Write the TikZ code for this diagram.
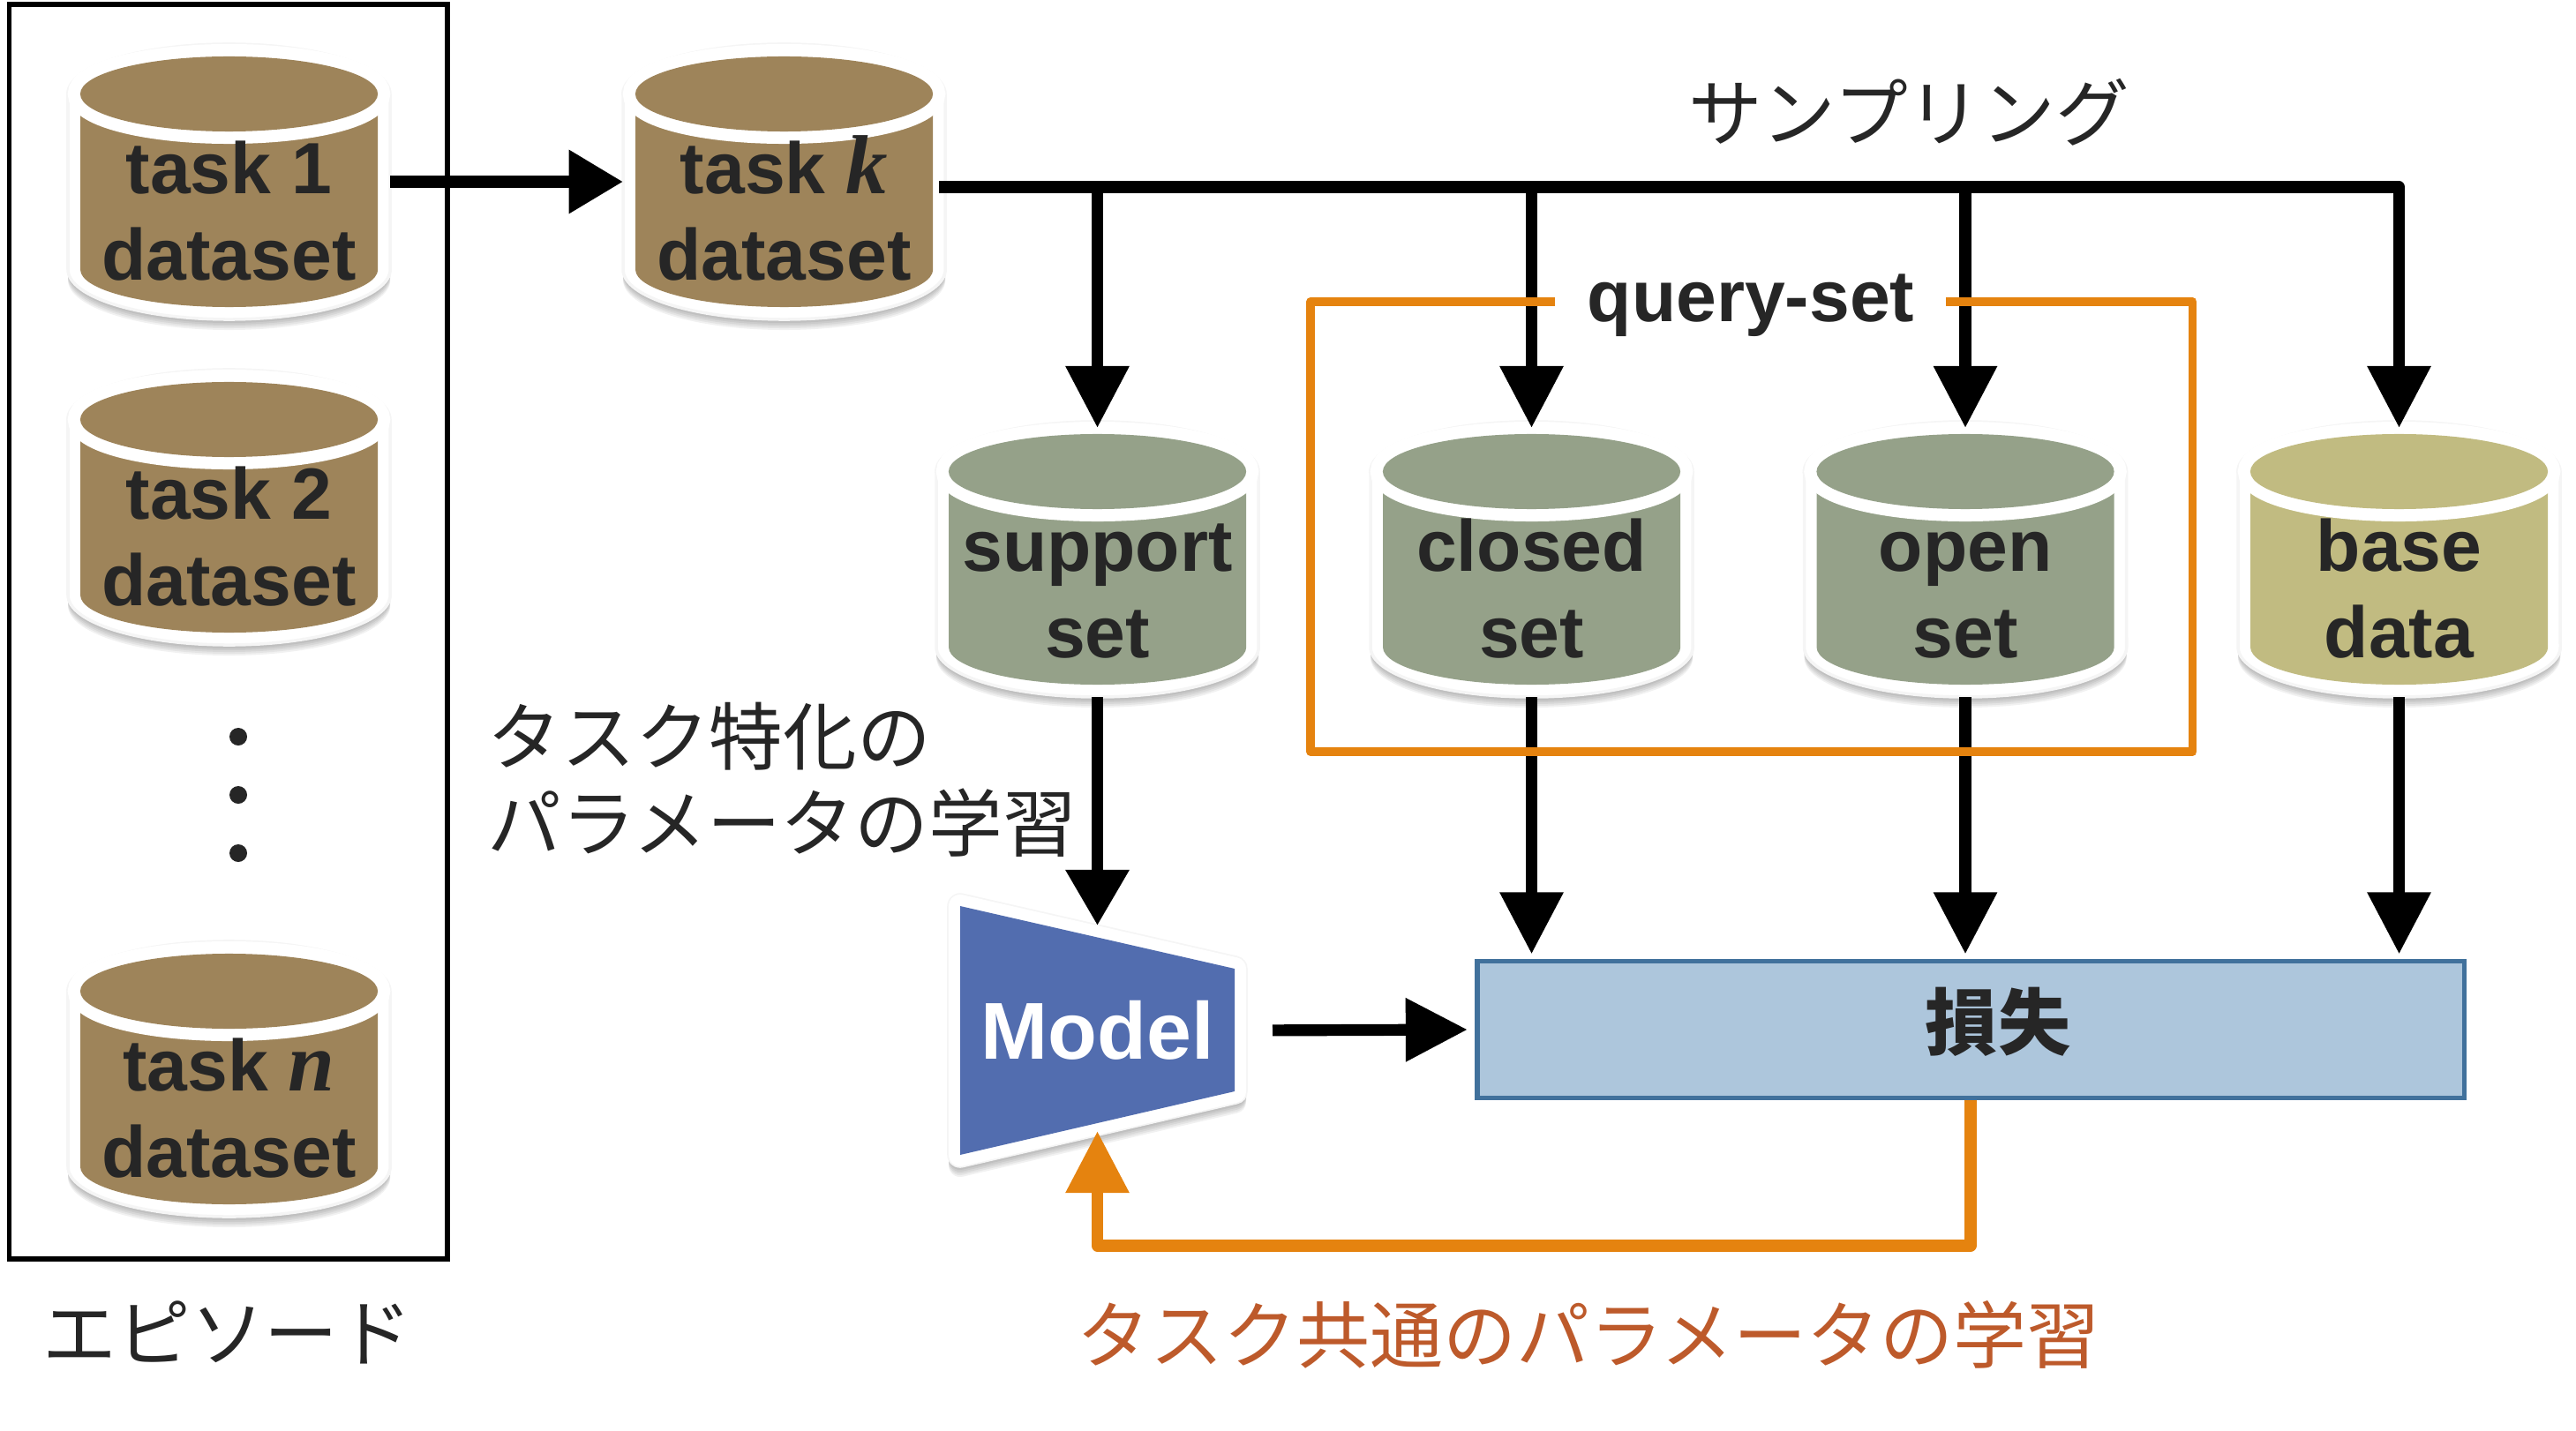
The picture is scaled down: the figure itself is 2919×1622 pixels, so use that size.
\documentclass[tikz,border=0pt]{standalone}
\usepackage{xcolor}
\usepackage{fontspec}
\setmainfont{Liberation Sans}
\newfontfamily\jpfont{Noto Sans CJK JP}
\newfontfamily\varfont{Liberation Serif}
\usetikzlibrary{arrows.meta, positioning}

\definecolor{inkgray}{HTML}{262626}
\definecolor{taskbrown}{HTML}{9E845A}
\definecolor{setsage}{HTML}{95A189}
\definecolor{baseyellow}{HTML}{C1BB81}
\definecolor{modelblue}{HTML}{526DAF}
\definecolor{lossfill}{HTML}{ADC6DC}
\definecolor{lossline}{HTML}{41719C}
\definecolor{loopamber}{HTML}{E5830F}
\definecolor{looptext}{HTML}{BD5A2B}

\tikzset{
  dbbox/.style={minimum width=3.65cm, minimum height=3.12cm, inner sep=0pt, outer sep=0pt, align=center, text=inkgray, font=\fontsize{23.4}{28}\selectfont\bfseries},
  flowarrow/.style={line width=3.75pt, line join=round, -{Triangle[length=19.9pt,width=19.6pt]}},
  jptext/.style={text=inkgray, inner sep=0pt, align=left, font=\fontsize{23.8}{28}\selectfont\jpfont},
  dotmark/.style={circle, fill=inkgray, minimum size=0.2cm, inner sep=0pt},
  queryframe/.style={draw=loopamber, line width=2.8pt, line join=round},
  rimhalo/.style={draw=black!4, line width=1pt},
}

% outline of a cylinder: centre x, centre y, radius x, radius y (in cm)
\newcommand{\dboutline}[4]{(#1-#3*100,#2-99.5) -- (#1-#3*100,#2+99.5) arc[start angle=180,end angle=360,x radius=#3cm,y radius=#4cm] -- (#1+#3*100,#2-99.5) arc[start angle=0,end angle=180,x radius=#3cm,y radius=#4cm] -- cycle}
\newcommand{\dbnode}[5]{
  \foreach \s in {2,4,...,12} {\fill[black,opacity=0.055] \dboutline{#2}{#3+\s}{1.825}{0.565};}
  \draw[rimhalo, fill=white] \dboutline{#2}{#3}{1.825}{0.565};
  \fill[#4] \dboutline{#2}{#3}{1.685}{0.425};
  \draw[white,line width=7.97pt] (#2,#3-99.5) ellipse[x radius=1.685cm,y radius=0.425cm];
  \fill[#4] (#2,#3-99.5) ellipse[x radius=1.685cm,y radius=0.425cm];
  \node (#1) [dbbox] at (#2,#3) {#5};
}
\newcommand{\dbtext}[2]{\rule{0pt}{37.4pt}#1\\#2\rule[-2pt]{0pt}{2pt}}
\newcommand{\varletter}[1]{{\varfont\fontsize{27}{28}\selectfont\bfseries\itshape #1}}

\begin{document}
\begin{tikzpicture}[x=0.01cm, y=-0.01cm]
\useasboundingbox (0,0) rectangle (2919,1622);

\node (episode) [draw, line width=1.6pt, minimum width=4.965cm, minimum height=14.215cm, inner sep=0pt] at (258.75,716) {};

\dbnode{taskone}{259.5}{206}{taskbrown}{\dbtext{task 1}{dataset}}
\dbnode{tasktwo}{259.5}{575}{taskbrown}{\dbtext{task 2}{dataset}}
\dbnode{taskn}{259.5}{1223}{taskbrown}{\dbtext{task \varletter{n}}{dataset}}
\dbnode{taskk}{888.5}{206}{taskbrown}{\dbtext{task \varletter{k}}{dataset}}
\dbnode{support}{1243.5}{634}{setsage}{\dbtext{support}{set}}
\dbnode{closed}{1735.5}{634}{setsage}{\dbtext{closed}{set}}
\dbnode{open}{2227}{634}{setsage}{\dbtext{open}{set}}
\dbnode{base}{2718.5}{634}{baseyellow}{\dbtext{base}{data}}

\foreach \n/\y in {a/835, b/901, c/967}
  \node (dot\n) [dotmark] at (270,\y) {};

% model block with its white rim
\foreach \s in {2,4,...,12}
  \draw[black, opacity=0.055, line width=7.4pt, line join=round, fill=black] (1088,1027+\s) -- (1399,1098+\s) -- (1399,1237+\s) -- (1088,1309+\s) -- cycle;
\draw[black!4, line width=8.4pt, line join=round] (1088,1027) -- (1399,1098) -- (1399,1237) -- (1088,1309) -- cycle;
\draw[white, fill=white, line width=7.4pt, line join=round] (1088,1027) -- (1399,1098) -- (1399,1237) -- (1088,1309) -- cycle;
\fill[modelblue] (1088,1027) -- (1399,1098) -- (1399,1237) -- (1088,1309) -- cycle;
\node (model) [minimum width=3.37cm, minimum height=2.38cm, inner sep=0pt, outer sep=0pt, text=white, font=\fontsize{26}{28}\selectfont\bfseries] at (1243.5,1168) {Model};

\node (loss) [draw=lossline, fill=lossfill, line width=1.6pt, minimum width=11.18cm, minimum height=1.55cm, inner sep=0pt] at (2233,1167) {};
\node (losslabel) [jptext, font=\fontsize{23.4}{28}\selectfont\jpfont\bfseries] at (2264,1158) {損失};

\coordinate (taskkout) at (1064,212);
\coordinate (feedbackturn) at (2233,1412);

\draw[flowarrow, -{Triangle[length=17.4pt,width=19.6pt]}] (taskone) -- (taskk);
\draw[flowarrow, shorten >=-2pt] (taskkout) -| (support.north);
\draw[flowarrow, shorten >=-2pt] (taskkout) -| (closed.north);
\draw[flowarrow, shorten >=-2pt] (taskkout) -| (open.north);
\draw[flowarrow, shorten >=-2pt] (taskkout) -| (base.north);
\draw[flowarrow, -{Triangle[length=17.9pt,width=19.6pt]}] (support.south) -- (model.north);
\draw[flowarrow, shorten >=1.5pt] (closed.south) -- (closed.south |- loss.north);
\draw[flowarrow, shorten >=1.5pt] (open.south) -- (open.south |- loss.north);
\draw[flowarrow, shorten >=1.5pt] (base.south) -- (base.south |- loss.north);
\draw[flowarrow, shorten <=8.5pt, shorten >=2.3pt] (model.east) -- (loss.west);
\draw[flowarrow, loopamber, shorten >=-1.4pt] (loss.south) -- (feedbackturn) -| (model.south);

\draw[queryframe] (1762,342) -- (1485,342) -- (1485,852) -- (2484.5,852) -- (2484.5,342) -- (2205,342);
\node (queryset) [anchor=base, inner sep=0pt, text=inkgray, font=\fontsize{23.4}{28}\selectfont\bfseries] at (1984,365) {query-set};

\node (samplinglabel) [jptext] at (2163,127) {サンプリング};
\node (tasklabel) [jptext, anchor=west] at (552,884) {タスク特化の\\パラメータの学習};
\node (episodelabel) [jptext] at (258,1510) {エピソード};
\node (sharedlabel) [jptext, text=looptext, font=\fontsize{23.6}{28}\selectfont\jpfont] at (1800,1513) {タスク共通のパラメータの学習};
\end{tikzpicture}
\end{document}
